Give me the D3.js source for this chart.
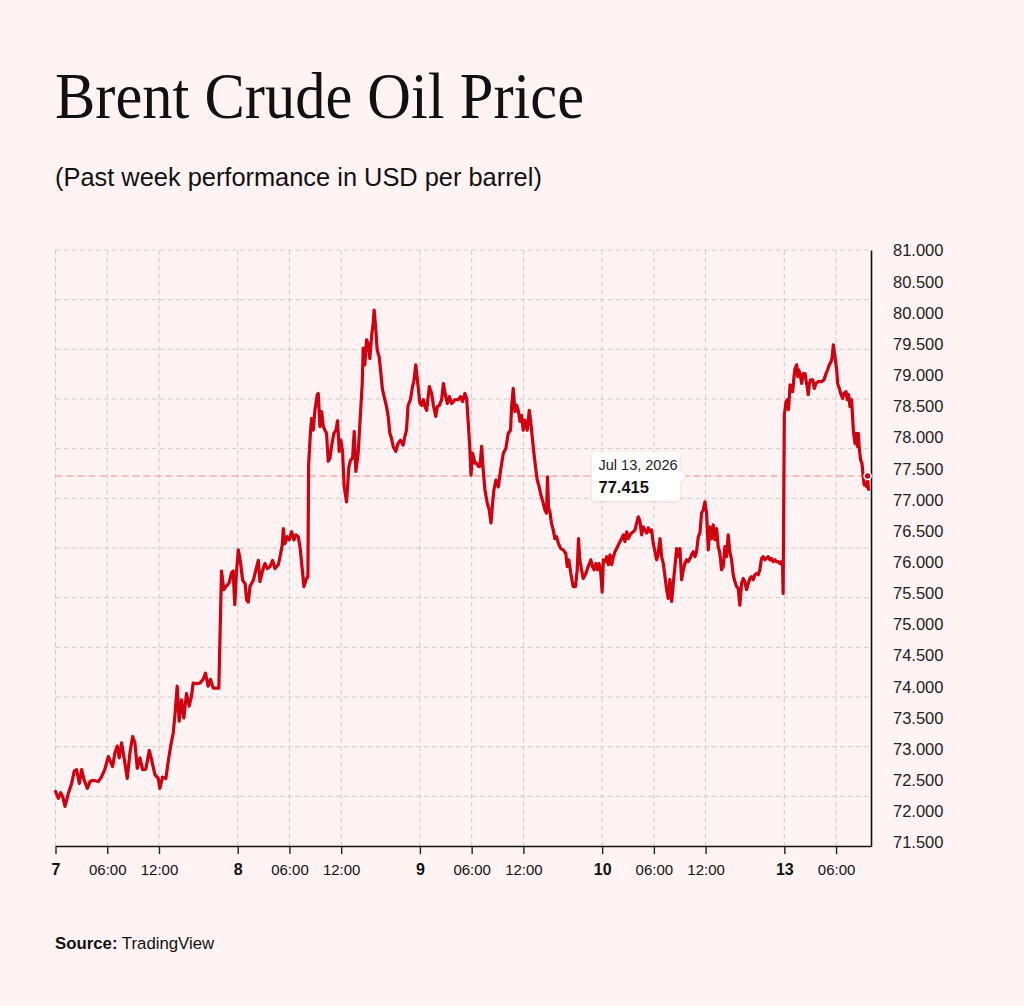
<!DOCTYPE html>
<html><head><meta charset="utf-8">
<script src="https://cdn.jsdelivr.net/npm/d3@7/dist/d3.min.js"></script>
<style>
html,body{margin:0;padding:0;background:#fff3f3;}
svg{display:block;}
</style></head>
<body>
<svg id="chart" width="1024" height="1006"></svg>
<script>
// ---------------- DATA ----------------
const titleText = "Brent Crude Oil Price";
const subtitleText = "(Past week performance in USD per barrel)";
const sourceLabel = "Source:";
const sourceName = " TradingView";

const dayLabels = ["7", "8", "9", "10", "13"];
const hourTicks = [6, 12];
const hourTickLabels = ["06:00", "12:00"];
const yTickValues = [71.5, 72, 72.5, 73, 73.5, 74, 74.5, 75, 75.5, 76, 76.5, 77, 77.5, 78, 78.5, 79, 79.5, 80, 80.5, 81];

// each day: [hour of trading session, price]
const jul7 = [[0,72.35],[0.33,72.24],[0.6,72.33],[0.83,72.27],[1.1,72.11],[1.49,72.32],[1.87,72.48],[2.18,72.68],[2.45,72.70],[2.76,72.48],[3.03,72.70],[3.3,72.54],[3.69,72.40],[4.0,72.51],[4.38,72.53],[4.96,72.51],[5.35,72.59],[5.73,72.71],[6.12,72.91],[6.62,72.75],[6.89,72.97],[7.16,73.08],[7.39,72.89],[7.66,73.13],[7.93,72.91],[8.32,72.56],[8.63,72.97],[8.94,73.23],[9.21,73.13],[9.48,72.72],[9.79,72.89],[10.1,72.70],[10.48,72.71],[10.87,73.01],[11.14,72.86],[11.53,72.62],[11.91,72.56],[12.1,72.40],[12.41,72.58],[12.8,72.56],[13.07,72.83],[13.34,73.07],[13.65,73.29],[13.84,73.56],[14.11,74.04],[14.34,73.48],[14.61,73.82],[14.88,73.53],[15.19,73.92],[15.5,73.72],[15.77,73.88],[15.96,74.09],[16.35,74.08],[16.74,74.09],[17.12,74.15],[17.39,74.25],[17.7,74.04],[17.97,74.15],[18.28,74.01],[18.59,74.01],[18.94,74.01],[19.25,75.89],[19.52,75.59],[19.83,75.65],[20.14,75.70],[20.41,75.86],[20.6,75.89],[20.79,75.35],[20.98,75.86]];
const jul8 = [[0.07,76.23],[0.34,76.01],[0.57,75.74],[0.85,75.69],[1.04,75.42],[1.23,75.39],[1.42,75.64],[1.81,75.74],[2.2,75.96],[2.39,76.06],[2.58,75.72],[2.89,75.90],[3.16,76.01],[3.43,75.93],[3.74,75.96],[4.05,76.06],[4.32,75.93],[4.71,75.99],[4.98,76.17],[5.17,76.31],[5.29,76.57],[5.48,76.33],[5.75,76.44],[5.98,76.39],[6.25,76.52],[6.52,76.39],[6.75,76.47],[7.02,76.44],[7.22,76.28],[7.49,75.91],[7.68,75.64],[7.91,75.75],[8.14,75.80],[8.22,77.59],[8.45,78.15],[8.57,78.34],[8.76,78.15],[8.95,78.47],[9.22,78.72],[9.34,78.74],[9.53,78.21],[9.73,78.45],[9.92,78.21],[10.11,78.15],[10.3,78.10],[10.5,77.65],[10.69,77.70],[10.88,77.89],[11.15,78.10],[11.39,78.15],[11.58,78.30],[11.77,77.81],[11.96,77.99],[12.16,77.81],[12.35,77.24],[12.62,77.00],[12.89,77.56],[13.08,77.67],[13.32,77.70],[13.51,78.13],[13.7,77.49],[13.97,77.78],[14.17,78.26],[14.44,78.90],[14.55,79.47],[14.74,79.20],[14.94,79.60],[15.13,79.54],[15.32,79.30],[15.52,79.65],[15.71,79.87],[15.82,80.08],[16.02,79.76],[16.17,79.44],[16.4,79.33],[16.56,79.12],[16.79,78.80],[17.06,78.64],[17.25,78.53],[17.45,78.37],[17.64,78.10],[17.83,78.02],[18.03,77.89],[18.33,77.81],[18.6,77.94],[18.88,77.99],[19.18,77.91],[19.38,78.05],[19.57,78.15],[19.76,78.55],[20.03,78.64],[20.27,78.85],[20.42,78.93],[20.65,79.20],[20.84,78.96]];
const jul9 = [[0,78.58],[0.21,78.55],[0.4,78.64],[0.59,78.53],[0.78,78.47],[1.09,78.85],[1.36,78.74],[1.56,78.55],[1.83,78.37],[2.02,78.53],[2.25,78.55],[2.52,78.64],[2.72,78.90],[2.99,78.69],[3.18,78.58],[3.41,78.69],[3.68,78.58],[4.07,78.64],[4.45,78.64],[4.72,78.69],[4.95,78.61],[5.22,78.74],[5.42,78.66],[5.61,78.26],[5.8,77.83],[5.92,77.43],[6.11,77.78],[6.38,77.62],[6.58,77.62],[6.77,77.57],[6.96,77.57],[7.16,77.89],[7.35,77.49],[7.54,77.19],[7.81,76.98],[8.04,76.87],[8.24,76.66],[8.43,76.98],[8.58,77.19],[8.82,77.35],[9.09,77.24],[9.36,77.51],[9.67,77.78],[9.97,77.86],[10.24,78.10],[10.51,78.15],[10.63,78.53],[10.82,78.82],[11.02,78.45],[11.21,78.55],[11.4,78.47],[11.6,78.29],[11.79,78.39],[11.98,78.15],[12.18,78.31],[12.45,78.15],[12.68,78.47],[12.83,78.31],[13.06,77.99],[13.26,77.73],[13.45,77.51],[13.6,77.35],[13.83,77.24],[14.03,77.11],[14.3,76.98],[14.49,76.87],[14.68,76.82],[14.8,77.40],[14.91,76.90],[15.07,76.84],[15.26,76.65],[15.46,76.55],[15.65,76.41],[15.84,76.44],[16.11,76.31],[16.34,76.25],[16.61,76.23],[16.92,76.17],[17.08,75.96],[17.27,76.07],[17.5,75.85],[17.77,75.64],[18.04,75.64],[18.24,75.91],[18.39,76.41],[18.54,76.07],[18.74,75.91],[18.93,75.77],[19.24,75.85],[19.51,75.96],[19.82,76.07],[20.01,75.96],[20.2,75.91],[20.4,76.01],[20.59,75.91],[20.78,76.01],[20.94,75.91]];
const jul10 = [[0,75.55],[0.14,76.07],[0.34,76.04],[0.53,76.12],[0.72,75.99],[0.92,76.15],[1.11,75.99],[1.3,76.12],[1.49,76.20],[1.69,76.25],[1.88,76.31],[2.07,76.36],[2.27,76.41],[2.46,76.47],[2.65,76.36],[2.85,76.52],[3.04,76.41],[3.23,76.47],[3.42,76.50],[3.62,76.52],[3.81,76.55],[4.0,76.66],[4.2,76.76],[4.39,76.68],[4.58,76.47],[4.78,76.60],[4.97,76.55],[5.16,76.50],[5.36,76.58],[5.55,76.52],[5.74,76.55],[5.93,76.33],[6.13,76.20],[6.32,76.07],[6.51,76.17],[6.71,76.41],[6.9,76.12],[7.09,76.01],[7.29,75.80],[7.48,75.59],[7.67,75.45],[7.86,75.75],[8.06,75.40],[8.25,75.69],[8.44,75.96],[8.64,76.25],[8.83,76.12],[9.02,76.25],[9.22,75.75],[9.41,75.91],[9.6,76.01],[9.8,76.07],[9.99,76.04],[10.18,76.09],[10.37,76.15],[10.57,76.20],[10.76,76.12],[10.95,76.20],[11.15,76.44],[11.34,76.50],[11.53,76.82],[11.73,76.87],[11.92,77.00],[12.11,76.82],[12.31,76.23],[12.5,76.60],[12.69,76.41],[12.88,76.63],[13.08,76.39],[13.27,76.57],[13.46,76.28],[13.66,76.17],[13.85,75.91],[14.04,75.96],[14.24,76.28],[14.43,76.12],[14.62,76.47],[14.81,76.20],[15.01,76.07],[15.2,75.83],[15.39,75.72],[15.59,75.64],[15.78,75.61],[15.97,75.34],[16.17,75.69],[16.36,75.77],[16.55,75.72],[16.75,75.59],[16.94,75.69],[17.13,75.77],[17.32,75.80],[17.52,75.75],[17.71,75.83],[17.9,75.85],[18.1,75.83],[18.29,75.91],[18.48,76.09],[18.68,76.12],[18.87,76.07],[19.06,76.09],[19.26,76.12],[19.45,76.07],[19.64,76.09],[19.83,76.04],[20.03,76.07],[20.22,76.04],[20.41,76.04],[20.61,76.01],[20.8,76.04],[20.92,75.99],[20.99,75.53]];
const jul13 = [[0,78.40],[0.08,78.48],[0.2,78.61],[0.35,78.64],[0.47,78.48],[0.58,78.69],[0.66,78.88],[0.85,78.85],[0.97,78.77],[1.12,79.01],[1.24,79.14],[1.43,79.20],[1.55,79.01],[1.66,79.12],[1.82,79.06],[2.01,78.90],[2.2,79.06],[2.4,79.06],[2.51,78.96],[2.67,78.82],[2.78,78.72],[2.9,78.90],[3.05,78.96],[3.29,78.96],[3.48,78.82],[3.67,78.90],[3.94,78.93],[4.33,78.93],[4.6,78.96],[4.83,79.06],[5.02,79.12],[5.22,79.20],[5.41,79.25],[5.53,79.30],[5.68,79.52],[5.87,79.33],[6.07,79.12],[6.18,78.90],[6.38,78.82],[6.53,78.74],[6.76,78.66],[6.92,78.74],[7.15,78.77],[7.3,78.64],[7.46,78.72],[7.61,78.53],[7.8,78.64],[8.0,78.15],[8.19,77.94],[8.31,78.10],[8.46,77.89],[8.58,78.10],[8.69,77.86],[8.85,77.67],[9.0,77.62],[9.15,77.40],[9.27,77.27],[9.46,77.30],[9.56,77.24],[9.66,77.415],[9.72,77.25],[9.77,77.20]];
const sessions = [jul7, jul8, jul9, jul10, jul13];

const hover = { date: "Jul 13, 2026", dayIndex: 4, hour: 9.66, value: 77.415 };

// ---------------- LAYOUT ----------------
const SESSION_HOURS = 21.13;   // plotted length of one trading session
const LAST_SESSION_HOURS = 10.05;
const W = 1024, H = 1006;
const plot = { left: 55.5, right: 871, top: 250, bottom: 846 };
const sans = "'Liberation Sans', Arial, Helvetica, sans-serif";
const serif = "'Liberation Serif', 'Times New Roman', Times, serif";
const lineColor = "#d2000f";

const svg = d3.select("#chart");
svg.append("rect").attr("width", W).attr("height", H).attr("fill", "#fff3f3");

const x = d3.scaleLinear()
  .domain([0, (dayLabels.length - 1) * SESSION_HOURS + LAST_SESSION_HOURS])
  .range([plot.left, plot.right]);
const y = d3.scaleLinear().domain([71.475, 81.043]).range([plot.bottom, plot.top]);

const series = sessions.flatMap((s, i) => s.map(([h, v]) => ({ t: i * SESSION_HOURS + h, v })));

// ticks
const xTicks = [];
dayLabels.forEach((d, i) => {
  xTicks.push({ t: i * SESSION_HOURS, label: d, bold: true });
  hourTicks.forEach((h, j) => {
    const t = i * SESSION_HOURS + h;
    if (t <= x.domain()[1]) xTicks.push({ t, label: hourTickLabels[j], bold: false });
  });
});
const tickByT = new Map(xTicks.map(d => [d.t, d]));

// grid
const grid = svg.append("g").attr("stroke", "#d0cbcb").attr("stroke-width", 1).attr("stroke-dasharray", "5,3");
const nH = 12;
d3.range(nH).forEach(i => {
  const yy = plot.top + i * (plot.bottom - plot.top) / nH;
  grid.append("line").attr("x1", plot.left).attr("x2", plot.right).attr("y1", yy).attr("y2", yy);
});
xTicks.forEach(d => {
  grid.append("line").attr("x1", x(d.t)).attr("x2", x(d.t)).attr("y1", plot.top).attr("y2", plot.bottom);
});

// x axis
const xAxis = svg.append("g").attr("transform", `translate(0,${plot.bottom})`)
  .call(d3.axisBottom(x).tickValues(xTicks.map(d => d.t))
    .tickFormat(t => tickByT.get(t).label).tickSize(8).tickSizeOuter(0).tickPadding(10));
xAxis.select(".domain").attr("stroke", "#111").attr("stroke-width", 1.6);
xAxis.selectAll(".tick line").attr("stroke", "#222").attr("stroke-width", 1.4);
xAxis.selectAll(".tick text")
  .attr("fill", "#111")
  .style("font-family", sans)
  .style("font-size", t => tickByT.get(t).bold ? "16px" : "15px")
  .style("font-weight", t => tickByT.get(t).bold ? "bold" : "normal");

// y axis (right)
const yAxis = svg.append("g").attr("transform", `translate(${plot.right},0)`)
  .call(d3.axisRight(y).tickValues(yTickValues).tickFormat(d3.format(".3f")).tickSize(0).tickSizeOuter(0).tickPadding(22));
yAxis.select(".domain").attr("stroke", "#111").attr("stroke-width", 1.6);
yAxis.selectAll(".tick text")
  .attr("fill", "#222").attr("dy", "0.2em")
  .style("font-family", sans).style("font-size", "16.5px");

// hover dashed line
const hx = x(hover.dayIndex * SESSION_HOURS + hover.hour), hy = y(hover.value);
svg.append("line").attr("x1", plot.left).attr("x2", hx).attr("y1", hy).attr("y2", hy)
  .attr("stroke", "#f28b8b").attr("stroke-width", 1.2).attr("stroke-dasharray", "7,4");

// price line
svg.append("path").datum(series)
  .attr("fill", "none").attr("stroke", lineColor).attr("stroke-width", 3.2)
  .attr("stroke-linejoin", "round").attr("stroke-linecap", "round")
  .attr("d", d3.line().x(d => x(d.t)).y(d => y(d.v)));

// hover dot
svg.append("circle").attr("cx", hx).attr("cy", hy).attr("r", 3.5)
  .attr("fill", lineColor).attr("stroke", "#fff").attr("stroke-width", 1.6);

// tooltip
const defs = svg.append("defs");
const f = defs.append("filter").attr("id", "shadow").attr("x", "-20%").attr("y", "-20%").attr("width", "140%").attr("height", "140%");
f.append("feDropShadow").attr("dx", 0).attr("dy", 1).attr("stdDeviation", 1.5).attr("flood-color", "#000").attr("flood-opacity", 0.12);
const tip = svg.append("g").attr("transform", `translate(592,${hy - 24})`);
tip.append("path").attr("filter", "url(#shadow)").attr("fill", "#fff")
  .attr("d", "M4,0 H84 Q88,0 88,4 V18.5 L94,24 L88,29.5 V45 Q88,49 84,49 H4 Q0,49 0,45 V4 Q0,0 4,0 Z");
tip.append("text").attr("x", 6.5).attr("y", 18).text(hover.date)
  .attr("fill", "#222").style("font-family", sans).style("font-size", "14.5px");
tip.append("text").attr("x", 6.5).attr("y", 41).text(d3.format(".3f")(hover.value))
  .attr("fill", "#111").style("font-family", sans).style("font-size", "16.5px").style("font-weight", "bold");

// titles
svg.append("text").attr("x", 55).attr("y", 117.5).text(titleText)
  .attr("textLength", 529).attr("lengthAdjust", "spacingAndGlyphs")
  .attr("fill", "#111").style("font-family", serif).style("font-size", "66px");
svg.append("text").attr("x", 55).attr("y", 185.5).text(subtitleText)
  .attr("fill", "#111").style("font-family", sans).style("font-size", "25.4px");
const src = svg.append("text").attr("x", 55).attr("y", 949)
  .attr("fill", "#111").style("font-family", sans).style("font-size", "16.8px");
src.append("tspan").style("font-weight", "bold").text(sourceLabel);
src.append("tspan").text(sourceName);
</script>
</body></html>
